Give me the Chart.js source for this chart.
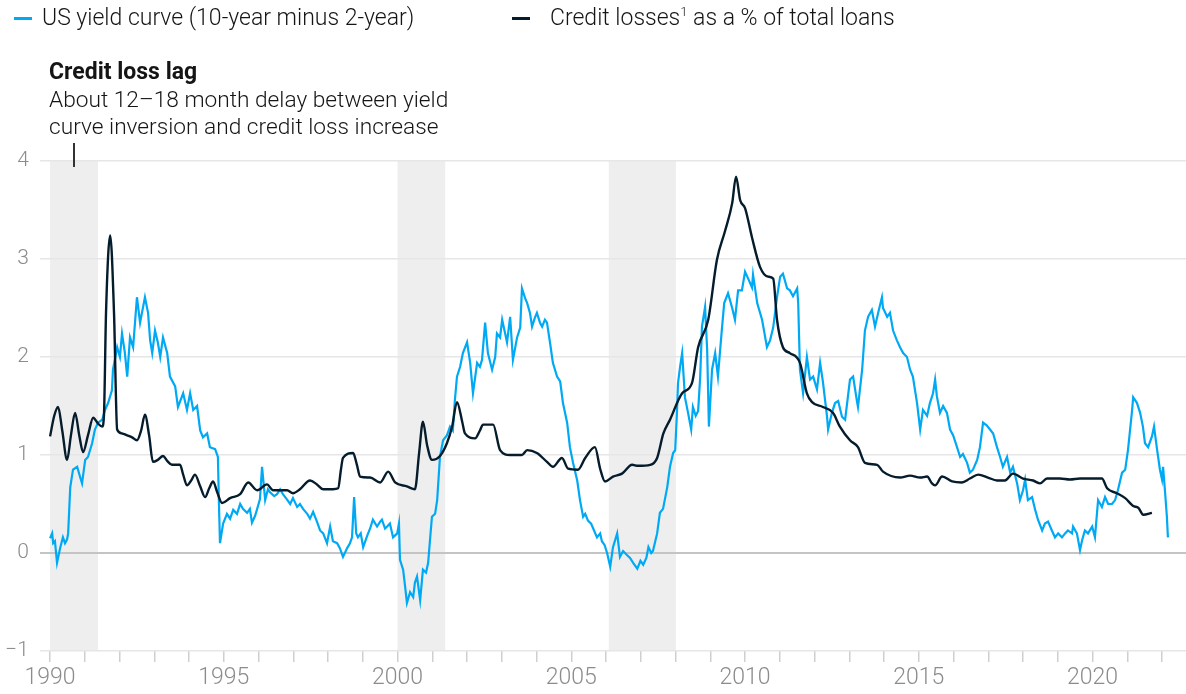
<!DOCTYPE html>
<html>
<head>
<meta charset="utf-8">
<script src="https://cdn.jsdelivr.net/npm/chart.js@4.4.1/dist/chart.umd.min.js"></script>
<style>
  html, body { margin: 0; padding: 0; background: #fff; }
  #wrap { position: relative; width: 1186px; height: 694px; overflow: hidden; font-family: "Roboto", "Liberation Sans", sans-serif; color: #1a1a1a; }
  #wrap canvas { position: absolute; left: 0; top: 0; }
  .key { position: absolute; height: 2.5px; width: 18px; }
  .lbl { position: absolute; font-size: 23px; font-weight: 300; line-height: 26px; white-space: nowrap; color: #151515; }
  .note { position: absolute; left: 49px; font-size: 22.7px; font-weight: 300; line-height: 27px; white-space: nowrap; color: #151515; }
  sup { font-size: 13px; line-height: 0; vertical-align: 9px; }
</style>
</head>
<body>
<div id="wrap">
  <canvas id="chart" width="1186" height="694"></canvas>
  <div class="key" style="left:14px; top:17px; background:#00a9f4;"></div>
  <div class="lbl" style="left:42px; top:5px;">US yield curve (10-year minus 2-year)</div>
  <div class="key" style="left:512px; top:17px; background:#051c2c;"></div>
  <div class="lbl" style="left:550px; top:5px;">Credit losses<sup>1</sup> as a % of total loans</div>
  <div class="note" style="top:58px; font-weight:700; font-size:23px;">Credit loss lag</div>
  <div class="note" style="top:86px;">About 12–18 month delay between yield<br>curve inversion and credit loss increase</div>
  <div style="position:absolute; left:73px; top:143px; width:1.5px; height:24px; background:#333;"></div>
</div>
<script>
// 10-year minus 2-year Treasury spread (percentage points)
const yieldYears = [
  1990.00,1990.06,1990.09,1990.14,1990.20,1990.29,1990.37,1990.43,1990.49,1990.52,1990.58,1990.66,1990.78,1990.86,1990.92,
  1991.01,1991.09,1991.21,1991.29,1991.38,1991.50,1991.58,1991.67,1991.78,1991.81,1991.93,
  1992.01,1992.07,1992.15,1992.22,1992.30,1992.39,1992.50,1992.59,1992.73,1992.82,1992.88,1992.94,
  1993.02,1993.10,1993.17,1993.25,1993.37,1993.45,1993.60,1993.68,1993.83,1993.94,
  1994.03,1994.12,1994.23,1994.32,1994.40,1994.52,1994.60,1994.75,1994.83,1994.86,1994.89,1994.98,
  1995.09,1995.18,1995.27,1995.38,1995.47,1995.55,1995.67,1995.75,1995.81,1995.90,1995.96,
  1996.04,1996.10,1996.19,1996.27,1996.33,1996.45,1996.53,1996.62,1996.70,1996.81,1996.91,1996.99,
  1997.11,1997.19,1997.28,1997.40,1997.48,1997.57,1997.68,1997.77,1997.86,1997.97,
  1998.06,1998.14,1998.26,1998.34,1998.43,1998.55,1998.63,1998.69,1998.75,1998.81,1998.86,1998.94,
  1999.01,1999.13,1999.21,1999.29,1999.41,1999.50,1999.55,1999.64,1999.70,1999.78,1999.87,1999.99,
  2000.04,2000.07,2000.16,2000.22,2000.27,2000.36,2000.45,2000.50,2000.56,2000.65,2000.73,2000.82,2000.88,2000.94,2000.99,
  2001.08,2001.14,2001.22,2001.31,2001.42,2001.51,2001.59,2001.65,2001.71,2001.80,2001.88,
  2002.00,2002.09,2002.17,2002.29,2002.37,2002.43,2002.52,2002.60,2002.72,2002.81,2002.86,2002.95,
  2003.01,2003.09,2003.15,2003.24,2003.32,2003.44,2003.53,2003.58,2003.67,2003.73,2003.81,2003.87,2003.95,
  2004.01,2004.10,2004.16,2004.24,2004.30,2004.39,2004.47,2004.59,2004.68,2004.76,2004.88,2004.96,
  2005.05,2005.17,2005.25,2005.34,2005.40,2005.48,2005.57,2005.63,2005.74,2005.83,2005.88,2005.96,
  2006.03,2006.12,2006.20,2006.32,2006.40,2006.49,2006.60,2006.69,2006.78,2006.90,2006.99,
  2007.07,2007.16,2007.22,2007.30,2007.35,2007.47,2007.55,2007.64,2007.76,2007.84,2007.93,2007.99,
  2008.04,2008.07,2008.13,2008.19,2008.27,2008.36,2008.45,2008.50,2008.58,2008.65,2008.71,2008.76,2008.85,2008.91,2008.96,
  2009.05,2009.14,2009.22,2009.33,2009.40,2009.51,2009.63,2009.71,2009.80,2009.91,
  2010.00,2010.09,2010.20,2010.23,2010.35,2010.49,2010.63,2010.72,2010.81,2010.92,
  2011.01,2011.09,2011.21,2011.29,2011.38,2011.50,2011.53,2011.58,2011.67,2011.78,2011.87,2011.96,
  2012.07,2012.16,2012.24,2012.36,2012.39,2012.50,2012.59,2012.68,2012.79,2012.88,
  2013.02,2013.11,2013.22,2013.25,2013.37,2013.45,2013.54,2013.65,2013.74,2013.83,2013.94,2013.97,
  2014.09,2014.17,2014.26,2014.37,2014.46,2014.55,2014.66,2014.75,2014.83,2014.95,
  2015.04,2015.12,2015.24,2015.32,2015.41,2015.47,2015.52,2015.61,2015.70,2015.81,2015.90,2015.99,
  2016.10,2016.19,2016.27,2016.39,2016.47,2016.56,2016.68,2016.76,2016.85,2016.96,
  2017.05,2017.14,2017.25,2017.34,2017.42,2017.54,2017.63,2017.71,2017.83,2017.91,
  2018.00,2018.06,2018.14,2018.26,2018.35,2018.43,2018.55,2018.63,2018.72,2018.83,2018.92,
  2019.01,2019.12,2019.21,2019.29,2019.41,2019.44,2019.55,2019.64,2019.70,2019.78,2019.87,2019.99,
  2020.07,2020.16,2020.27,2020.36,2020.45,2020.56,2020.65,2020.73,2020.85,2020.94,
  2021.02,2021.14,2021.17,2021.28,2021.37,2021.45,2021.51,2021.60,2021.71,2021.77,2021.86,2021.94,
  2022.00,2022.03,2022.09,2022.14,2022.17
];
const yieldSpread = [
  0.15,0.20,0.10,0.12,-0.10,0.05,0.16,0.10,0.14,0.20,0.67,0.85,0.88,0.78,0.71,
  0.95,0.98,1.12,1.26,1.33,1.36,1.46,1.53,1.66,1.87,2.10,
  2.00,2.24,2.05,1.80,2.20,2.10,2.61,2.35,2.61,2.45,2.17,2.04,
  2.27,2.15,2.00,2.20,2.04,1.80,1.70,1.49,1.63,1.46,
  1.63,1.46,1.50,1.25,1.18,1.22,1.08,1.06,0.98,0.50,0.10,0.30,
  0.40,0.35,0.44,0.40,0.50,0.45,0.41,0.45,0.31,0.38,0.45,
  0.55,0.88,0.54,0.65,0.62,0.58,0.60,0.65,0.60,0.55,0.50,0.56,
  0.47,0.50,0.45,0.40,0.35,0.42,0.32,0.23,0.20,0.10,
  0.27,0.12,0.10,0.05,-0.04,0.05,0.10,0.16,0.57,0.20,0.16,0.20,
  0.06,0.18,0.25,0.34,0.27,0.32,0.34,0.25,0.27,0.30,0.16,0.20,
  0.30,-0.07,-0.17,-0.35,-0.51,-0.40,-0.45,-0.30,-0.24,-0.48,-0.17,-0.20,-0.10,0.16,0.37,
  0.40,0.54,0.98,1.15,1.20,1.29,1.25,1.56,1.80,1.90,2.04,
  2.15,1.94,1.63,1.94,1.90,1.97,2.35,2.04,1.87,2.00,2.24,2.20,
  2.38,2.25,2.15,2.41,1.97,2.20,2.30,2.70,2.60,2.55,2.45,2.31,2.40,
  2.45,2.35,2.31,2.38,2.35,2.14,1.94,1.80,1.75,1.53,1.33,1.08,
  0.92,0.74,0.54,0.37,0.40,0.33,0.30,0.25,0.16,0.20,0.12,0.08,
  0.00,-0.14,0.06,0.20,-0.04,0.02,-0.02,-0.05,-0.10,-0.16,-0.08,
  -0.12,-0.05,0.06,0.00,0.02,0.20,0.41,0.45,0.67,0.88,1.02,1.05,
  1.43,1.73,1.90,2.04,1.59,1.43,1.26,1.49,1.40,1.45,1.80,2.31,2.51,2.07,1.29,
  1.87,2.04,1.80,2.27,2.55,2.65,2.50,2.38,2.68,2.68,
  2.87,2.80,2.71,2.84,2.55,2.38,2.10,2.17,2.30,2.61,
  2.82,2.85,2.70,2.68,2.62,2.70,2.55,1.87,1.63,2.00,1.77,1.80,
  1.67,1.94,1.75,1.39,1.26,1.43,1.53,1.55,1.39,1.36,
  1.77,1.80,1.55,1.49,1.87,2.27,2.41,2.48,2.31,2.45,2.61,2.50,
  2.41,2.45,2.27,2.17,2.10,2.04,2.00,1.87,1.80,1.53,
  1.26,1.46,1.40,1.53,1.63,1.77,1.60,1.43,1.50,1.43,1.26,1.20,
  1.08,0.98,1.01,0.92,0.82,0.85,0.95,1.08,1.33,1.30,
  1.26,1.22,1.08,0.98,0.88,0.98,0.82,0.88,0.71,0.54,
  0.64,0.75,0.54,0.57,0.44,0.34,0.23,0.30,0.32,0.23,0.16,
  0.20,0.16,0.20,0.23,0.20,0.27,0.20,0.03,0.13,0.23,0.20,0.27,
  0.16,0.54,0.47,0.57,0.50,0.50,0.54,0.64,0.82,0.85,
  1.05,1.46,1.59,1.53,1.43,1.29,1.12,1.08,1.19,1.29,1.05,0.85,
  0.75,0.88,0.61,0.37,0.16
];

// Net credit losses as a share of total loans (%)
const lossYears = [
  1990.00,1990.12,1990.23,1990.35,1990.49,1990.60,1990.72,1990.84,1990.95,1991.09,1991.24,1991.38,1991.50,1991.55,1991.61,1991.73,1991.84,1991.93,
  1992.07,1992.22,1992.36,1992.50,1992.62,1992.73,1992.85,1992.96,1993.10,1993.25,1993.37,1993.51,1993.74,1993.83,1993.94,
  1994.06,1994.17,1994.32,1994.46,1994.58,1994.69,1994.81,1994.95,1995.18,1995.47,1995.70,1995.96,1996.24,1996.42,1996.82,1996.99,
  1997.19,1997.48,1997.68,1997.86,1998.14,1998.29,1998.37,1998.43,1998.72,1998.83,1998.92,1999.21,1999.50,1999.73,1999.93,
  2000.27,2000.50,2000.62,2000.73,2000.85,2000.99,2001.22,2001.42,2001.57,2001.71,2001.86,2001.94,
  2002.23,2002.37,2002.46,2002.75,2002.95,2003.24,2003.58,2003.73,2004.01,2004.30,2004.47,2004.73,2004.91,
  2005.19,2005.40,2005.68,2005.83,2005.97,2006.20,2006.46,2006.75,2006.92,2007.27,2007.47,2007.65,2007.84,
  2008.19,2008.47,2008.65,2008.94,2009.19,2009.42,2009.63,2009.74,2009.86,2010.00,2010.20,2010.43,2010.66,2010.81,2010.92,
  2011.09,2011.29,2011.58,2011.78,2011.93,2012.24,2012.53,2012.73,2013.02,2013.25,2013.45,2013.80,2013.97,
  2014.46,2014.75,2015.04,2015.24,2015.38,2015.47,2015.67,2015.96,2016.24,2016.47,2016.71,2016.99,
  2017.25,2017.48,2017.71,2018.00,2018.29,2018.49,2018.69,2019.06,2019.35,2019.64,2019.93,
  2020.27,2020.42,2020.70,2020.94,2021.17,2021.32,2021.46,2021.71
];
const lossRate = [
  1.19,1.40,1.49,1.25,0.95,1.20,1.43,1.20,1.03,1.20,1.38,1.32,1.29,1.40,2.45,3.24,2.45,1.26,
  1.22,1.20,1.18,1.15,1.25,1.41,1.20,0.93,0.95,0.99,0.94,0.90,0.90,0.80,0.69,
  0.74,0.80,0.68,0.57,0.66,0.73,0.62,0.51,0.56,0.60,0.72,0.64,0.70,0.64,0.64,0.61,
  0.65,0.74,0.70,0.65,0.65,0.66,0.85,0.97,1.02,0.90,0.78,0.77,0.72,0.83,0.72,
  0.68,0.65,1.02,1.34,1.10,0.95,0.99,1.12,1.29,1.54,1.34,1.22,
  1.17,1.25,1.31,1.31,1.05,1.00,1.00,1.05,1.02,0.93,0.88,0.97,0.86,
  0.85,0.97,1.08,0.86,0.73,0.78,0.81,0.90,0.89,0.90,0.97,1.22,1.36,
  1.63,1.73,2.10,2.38,2.99,3.28,3.57,3.84,3.60,3.52,3.22,2.92,2.82,2.80,2.38,
  2.10,2.04,1.94,1.63,1.54,1.49,1.43,1.29,1.15,1.08,0.92,0.90,0.83,
  0.77,0.79,0.77,0.78,0.71,0.69,0.78,0.73,0.72,0.76,0.80,0.77,
  0.74,0.74,0.81,0.76,0.74,0.71,0.76,0.76,0.75,0.76,0.76,
  0.76,0.66,0.61,0.56,0.48,0.46,0.39,0.41
];

// Shaded windows after each curve inversion, [start, end] in years
const lagStarts = [1990.00, 2000.00, 2006.08];
const lagEnds   = [1991.38, 2001.37, 2008.01];

const yTicks = [-1, 0, 1, 2, 3, 4];
const xLabelEvery = 5;

const BLUE = '#00a9f4';
const NAVY = '#051c2c';

const lagBands = {
  id: 'lagBands',
  beforeDraw(chart) {
    const { ctx, chartArea, scales } = chart;
    ctx.save();
    ctx.fillStyle = '#eeeeee';
    lagStarts.forEach((s, i) => {
      const x0 = scales.x.getPixelForValue(s);
      const x1 = scales.x.getPixelForValue(lagEnds[i]);
      ctx.fillRect(x0, chartArea.top, x1 - x0, chartArea.bottom - chartArea.top);
    });
    ctx.restore();
  }
};

new Chart(document.getElementById('chart'), {
  type: 'line',
  data: {
    datasets: [
      {
        label: 'US yield curve (10-year minus 2-year)',
        data: yieldYears.map((x, i) => ({ x, y: yieldSpread[i] })),
        borderColor: BLUE,
        borderWidth: 2.2,
        pointRadius: 0,
        tension: 0,
        order: 2
      },
      {
        label: 'Credit losses as a % of total loans',
        data: lossYears.map((x, i) => ({ x, y: lossRate[i] })),
        borderColor: NAVY,
        borderWidth: 2.4,
        pointRadius: 0,
        cubicInterpolationMode: 'monotone',
        order: 1
      }
    ]
  },
  options: {
    responsive: false,
    animation: false,
    events: [],
    layout: { padding: { top: 161, left: 0, right: 0, bottom: 0 } },
    plugins: { legend: { display: false }, tooltip: { enabled: false } },
    scales: {
      x: {
        type: 'linear',
        min: 1989.71,
        max: 2022.69,
        afterFit(scale) { scale.height = 43; },
        border: { display: false },
        grid: {
          drawOnChartArea: false,
          drawTicks: true,
          tickLength: 11,
          tickColor: '#cfcfcf',
          lineWidth: 1.5
        },
        ticks: {
          stepSize: 1,
          includeBounds: false,
          autoSkip: false,
          maxRotation: 0,
          padding: 2,
          color: '#8c8c8c',
          font: { family: 'Roboto', size: 23, weight: '300' },
          callback(v) {
            const yr = Math.round(v);
            return yr % xLabelEvery === 0 ? String(yr) : '';
          }
        }
      },
      y: {
        min: yTicks[0],
        max: yTicks[yTicks.length - 1],
        afterFit(scale) { scale.width = 40; },
        afterBuildTicks(scale) { scale.ticks = yTicks.map(v => ({ value: v })); },
        border: { display: false },
        grid: {
          drawTicks: false,
          color: (c) => (c.tick && c.tick.value === 0 ? '#c4c4c4' : '#e6e6e6'),
          lineWidth: (c) => (c.tick && c.tick.value === 0 ? 2 : 1.5)
        },
        ticks: {
          padding: 11,
          color: '#8c8c8c',
          font: { family: 'Roboto', size: 21, weight: '300' },
          callback(v) { return v < 0 ? '\u2212' + Math.abs(v) : String(v); }
        }
      }
    }
  },
  plugins: [lagBands]
});
</script>
</body>
</html>
